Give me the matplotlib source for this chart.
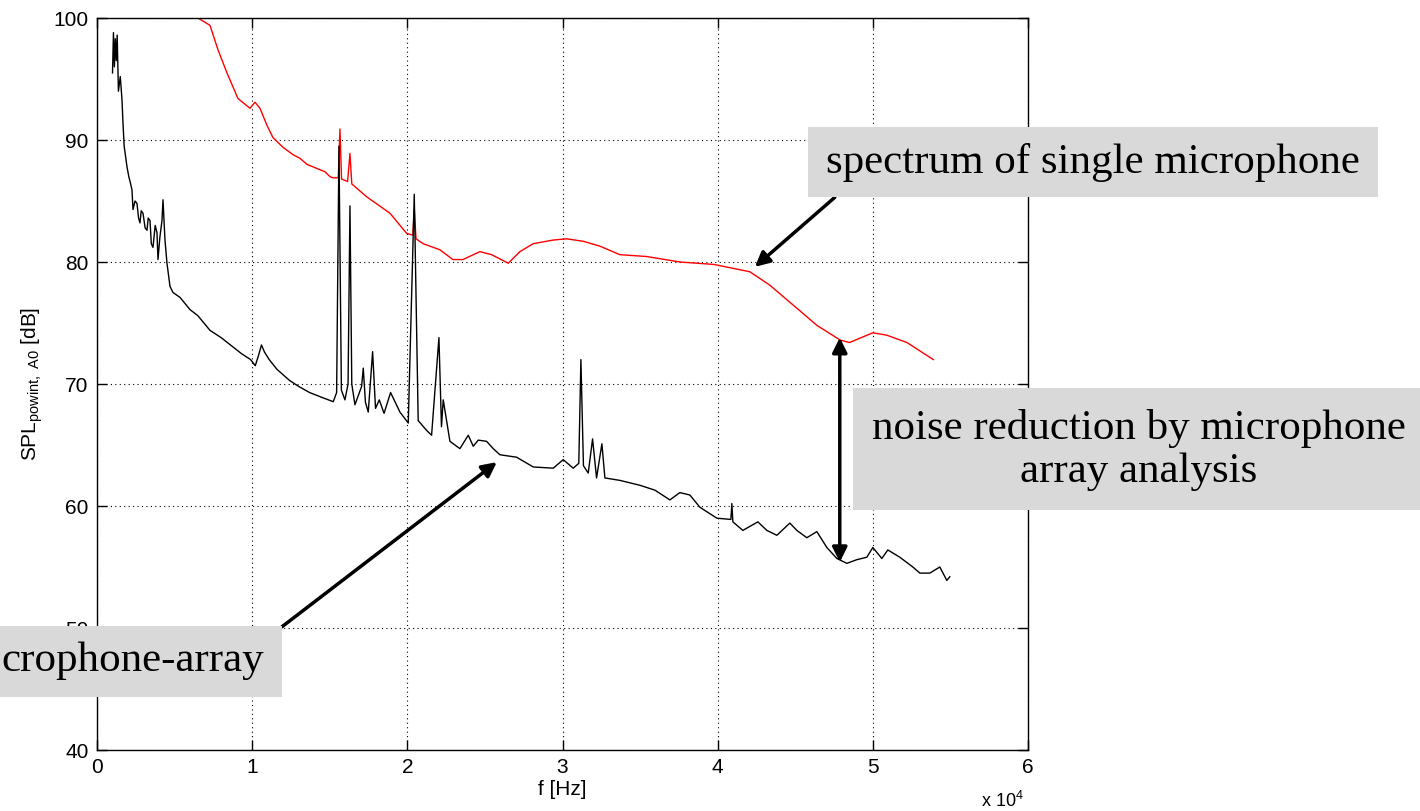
import numpy as np
import matplotlib.pyplot as plt
from matplotlib.patches import Rectangle

plt.rcParams['font.family'] = ['Liberation Sans', 'DejaVu Sans']
plt.rcParams['mathtext.fontset'] = 'custom'
plt.rcParams['mathtext.rm'] = 'Liberation Sans'
plt.rcParams['mathtext.it'] = 'Liberation Sans'

# single microphone spectrum (red), f in Hz, SPL in dB
red_f = [6200, 6508, 7281, 7796, 8376, 9085, 9858, 10180, 10503, 10954, 11340, 11985,
         12629, 13080, 13531, 14691, 15013, 15206, 15550, 15657, 15760, 16150, 16302,
         16420, 17375, 18879, 19952, 20350, 20450, 20560, 21025, 22100, 22938, 23582,
         24678, 25430, 26503, 27255, 28114, 29402, 30265, 31333, 32410, 33698, 35418,
         37564, 39755, 42075, 43363, 44652, 45300, 46400, 47900, 48500, 50000, 50900,
         52200, 53900]
red_db = [100.6, 100.0, 99.4, 97.4, 95.5, 93.4, 92.6, 93.1, 92.6, 91.2, 90.2, 89.4,
          88.8, 88.5, 88.0, 87.4, 87.0, 86.9, 86.9, 90.9, 86.8, 86.6, 88.9,
          86.4, 85.35, 84.0, 82.35, 82.2, 84.3, 81.9, 81.5, 81.0, 80.2, 80.2,
          80.85, 80.6, 79.9, 80.85, 81.5, 81.8, 81.9, 81.7, 81.3, 80.6, 80.45,
          80.0, 79.8, 79.2, 78.1, 76.7, 76.0, 74.8, 73.6, 73.4, 74.2, 74.0,
          73.4, 72.0]

# microphone array result (black)
blk_f = [1000, 1060, 1120, 1180, 1240, 1300, 1380, 1500, 1611, 1675, 1750, 1850, 1933,
         2050, 2150, 2255, 2320, 2450, 2577, 2680, 2771, 2850, 2964, 3100, 3222, 3300,
         3415, 3500, 3608, 3750, 3866, 3930, 4050, 4188, 4253, 4381, 4510, 4704, 4897,
         5348, 5992, 6500, 7280, 8000, 8600, 9300, 9900, 10200, 10400, 10600, 10800,
         11100, 11600, 12400, 13000, 13700, 14500, 15228, 15443, 15593, 15750, 15979,
         16180, 16302, 16420, 16624, 17053, 17160, 17300, 17482, 17762, 17950, 18190,
         18500, 18921, 19523, 20060, 20447, 20700, 21240, 21563, 22036, 22200, 22313,
         22745, 23389, 23926, 24249, 24571, 25108, 25537, 25966, 27040, 28114, 29402,
         30047, 30691, 31050, 31186, 31350, 31658, 31938, 32195, 32539, 32732, 33698,
         34987, 35954, 36920, 37564, 38209, 38853, 39948, 40850, 40915, 40979, 41624,
         42590, 43170, 43814, 44652, 45103, 45747, 46392, 47036, 47680, 48325, 48969,
         49613, 50000, 50580, 50966, 51740, 52577, 53028, 53673, 54317, 54768, 54961]
blk_db = [95.5, 98.8, 96.0, 98.3, 96.5, 98.6, 94.0, 95.2, 93.3, 91.4, 89.5, 88.6, 87.8,
          87.0, 86.5, 85.9, 84.3, 85.0, 84.8, 83.6, 83.2, 84.2, 84.0, 82.8, 82.6, 83.6,
          83.4, 81.5, 81.2, 83.0, 82.4, 80.2, 82.0, 83.4, 85.1, 81.8, 79.9, 78.0, 77.5,
          77.1, 76.1, 75.6, 74.4, 73.8, 73.2, 72.5, 72.0, 71.5, 72.3, 73.2, 72.6,
          72.0, 71.2, 70.3, 69.8, 69.3, 68.9, 68.55, 69.3, 89.5, 69.5, 68.7,
          70.0, 84.6, 70.0, 68.3, 69.8, 71.3, 68.5, 67.7, 72.65, 68.0, 68.7,
          67.6, 69.3, 67.7, 66.8, 85.55, 67.0, 66.2, 65.8, 73.8, 66.5, 68.7,
          65.3, 64.7, 65.8, 64.9, 65.4, 65.3, 64.7, 64.2, 64.0, 63.2, 63.1,
          63.8, 63.1, 63.5, 72.0, 63.3, 62.7, 65.5, 62.3, 65.1, 62.3, 62.1,
          61.7, 61.3, 60.5, 61.1, 60.9, 59.9, 59.0, 58.9, 60.2, 58.7, 58.0,
          58.7, 58.0, 57.6, 58.6, 58.0, 57.4, 57.9, 56.6, 55.7, 55.3, 55.6,
          55.8, 56.6, 55.7, 56.4, 55.8, 55.0, 54.5, 54.5, 55.0, 53.9, 54.2]

xticks = [0, 10000, 20000, 30000, 40000, 50000, 60000]
xticklabels = ['0', '1', '2', '3', '4', '5', '6']
yticks = [40, 50, 60, 70, 80, 90, 100]

W, H = 1420, 811
fig = plt.figure(figsize=(W / 100, H / 100), dpi=100)
ax = fig.add_axes([97 / W, 1 - 750 / H, 931 / W, 732 / H])

ax.plot(red_f, red_db, '-', color='#ff0000', lw=1.0)
ax.plot(blk_f, blk_db, '-', color='k', lw=1.0)

ax.set_xlim(0, 60000)
ax.set_ylim(40, 100)
ax.set_xticks(xticks)
ax.set_xticklabels(xticklabels)
ax.set_yticks(yticks)
ax.tick_params(direction='in', top=True, right=True, length=7, width=1,
               labelsize=15, pad=6)
ax.grid(True, color='k', linestyle=(0, (1, 3)), lw=0.8)
for s in ax.spines.values():
    s.set_linewidth(1.0)

ax.set_xlabel('f [Hz]', fontsize=15, labelpad=2)
ax.set_ylabel(r'SPL$_{\mathrm{powint,\ A0}}$ [dB]', fontsize=15, labelpad=6)
fig.text(1002 / W, 1 - 801 / H, r'x 10$^{4}$', fontsize=13, ha='center', va='center')

# grey annotation boxes (figure pixel coords, from top-left)
def gbox(x0, y0, x1, y1):
    fig.patches.append(Rectangle((x0 / W, 1 - y1 / H), (x1 - x0) / W, (y1 - y0) / H,
                                 transform=fig.transFigure, facecolor='#d9d9d9',
                                 edgecolor='none', zorder=3))

serif = dict(family=['Liberation Serif', 'DejaVu Serif'], fontsize=31, zorder=4)
gbox(808, 127, 1378, 197)
fig.text(1093 / W, 1 - 162 / H, 'spectrum of single microphone', ha='center',
         va='center', **serif)
gbox(853, 388, 1425, 510)
fig.text(1139 / W, 1 - 450 / H, 'noise reduction by microphone\narray analysis',
         ha='center', va='center', multialignment='center', linespacing=1.12, **serif)
gbox(-5, 626, 282, 697)
fig.text(1 / W, 1 - 661 / H, 'crophone-array', ha='left', va='center', **serif)

arw = dict(arrowstyle='-|>', color='k', lw=2.5, mutation_scale=22, shrinkA=0, shrinkB=0)
ax.annotate('', xy=(42400, 79.6), xytext=(47550, 85.3), arrowprops=arw,
            annotation_clip=False)
ax.annotate('', xy=(25770, 63.6), xytext=(11920, 50.1), arrowprops=arw,
            annotation_clip=False)
ax.annotate('', xy=(47870, 73.8), xytext=(47870, 55.4),
            arrowprops=dict(arrowstyle='<|-|>', color='k', lw=2.5, mutation_scale=22,
                            shrinkA=0, shrinkB=0))

fig.savefig('out.png', dpi=100)
